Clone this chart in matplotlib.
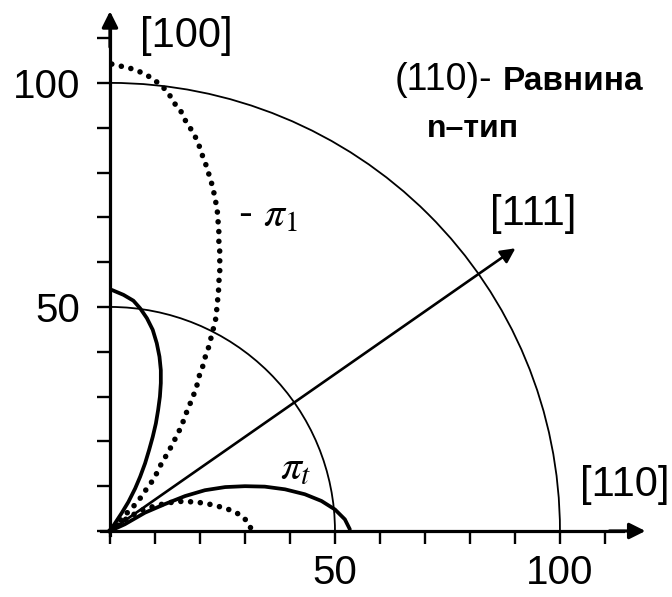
import numpy as np
import matplotlib
matplotlib.use("Agg")
import matplotlib.pyplot as plt
from matplotlib.patches import Arc
from matplotlib.ticker import FixedLocator, FuncFormatter

plt.rcParams['font.family'] = ['Liberation Sans', 'DejaVu Sans']
plt.rcParams['mathtext.fontset'] = 'stix'

# Piezoresistance coefficients of n-type Si in the (110) plane,
# polar curves given as x/y components (units of 1e-11 1/Pa).
# -pi_l, lobe along [100]
pil_a_x = [0.4, 3.0, 5.1, 7.3, 9.6, 11.1, 12.9, 14.0, 15.6, 16.7, 17.8, 19.1, 20.0,
           20.7, 21.6, 22.2, 22.9, 23.3, 23.8, 24.0, 24.2, 24.2, 24.4, 24.4, 24.4,
           24.2, 24.1, 23.8, 23.6, 23.1, 22.6, 22.1, 21.3, 20.6, 19.8, 19.3, 18.5,
           17.6, 16.7, 15.9, 14.8, 13.7, 12.6, 11.5, 10.4, 9.3, 8.2, 7.0, 5.9, 4.4,
           2.5, 0.0]
pil_a_y = [104.2, 103.6, 103.1, 102.2, 100.9, 99.6, 98.0, 95.8, 94.0, 91.7, 90.0, 87.7,
           85.5, 83.3, 81.0, 78.8, 76.6, 74.3, 72.1, 69.4, 66.7, 64.5, 62.3, 60.0,
           57.8, 55.6, 53.1, 50.4, 47.8, 45.6, 43.8, 41.5, 39.3, 36.7, 34.5, 32.4,
           30.1, 27.9, 25.7, 23.4, 21.2, 19.0, 17.0, 15.2, 12.9, 11.0, 9.5, 7.7, 6.2,
           4.7, 2.6, 0.0]
# -pi_l, lobe along [110]
pil_b_x = [0.0, 4.0, 7.0, 10.0, 13.0, 15.6, 18.5, 21.1, 23.3, 25.6, 27.4, 29.3, 30.7, 31.3]
pil_b_y = [0.0, 3.0, 4.6, 5.6, 6.3, 6.6, 6.5, 6.2, 5.7, 5.1, 4.4, 3.4, 1.9, 0.6]
# pi_t, lobe along [100]
pit_a_x = [0.4, 3.0, 5.2, 6.7, 8.2, 9.5, 10.4, 11.0, 11.3, 11.3, 11.1, 10.7, 10.2,
           9.5, 8.7, 7.8, 6.7, 5.6, 4.1, 2.6, 1.1, 0.0]
pit_a_y = [53.8, 52.7, 51.4, 49.7, 47.5, 44.9, 41.9, 38.9, 35.9, 33.0, 30.0, 27.0,
           24.0, 21.0, 18.1, 15.1, 12.1, 9.5, 6.5, 4.0, 1.7, 0.0]
# pi_t, lobe along [110]
pit_b_x = [0.0, 3.3, 7.8, 12.2, 16.7, 21.1, 25.6, 30.0, 34.4, 38.9, 43.3, 47.0, 50.0,
           52.2, 53.3]
pit_b_y = [0.0, 1.5, 4.1, 6.0, 7.8, 9.1, 9.8, 10.0, 9.9, 9.3, 8.2, 6.7, 4.8, 2.6, 0.4]

ring_radii = [50, 100]
dir_111_angle = 35.0     # degrees from [110]
dir_111_length = 110
tick_values = list(range(0, 120, 10))
labelled_ticks = [50, 100]

fig = plt.figure(figsize=(6.72, 5.97), dpi=100)
ax = fig.add_axes([0, 0, 1, 1])
ax.set_xlim(-24.44, 124.9)
ax.set_ylim(-14.73, 118.5)
ax.patch.set_visible(False)

# reference circles
for r in ring_radii:
    ax.add_patch(Arc((0, 0), 2 * r, 2 * r, theta1=0, theta2=90,
                     lw=1.3, color='black'))

# curves
dot_kw = dict(color='black', lw=4.0, linestyle=(0, (0.01, 1.75)),
              dash_capstyle='round', solid_capstyle='round')
ax.plot(pil_a_x, pil_a_y, **dot_kw)
ax.plot(pil_b_x, pil_b_y, **dot_kw)
sol_kw = dict(color='black', lw=2.7, solid_capstyle='round', solid_joinstyle='round')
ax.plot(pit_a_x, pit_a_y, **sol_kw)
ax.plot(pit_b_x, pit_b_y, **sol_kw)

# [111] direction arrow
th = np.deg2rad(dir_111_angle)
ax.annotate('', xy=(dir_111_length * np.cos(th), dir_111_length * np.sin(th)),
            xytext=(0, 0),
            arrowprops=dict(arrowstyle='-|>', lw=1.9, color='black',
                            mutation_scale=22, shrinkA=0, shrinkB=0))

# axes through the origin with arrow heads
for side in ('top', 'right'):
    ax.spines[side].set_visible(False)
ax.spines['left'].set_position(('data', 0))
ax.spines['bottom'].set_position(('data', 0))
ax.spines['left'].set_bounds(-1, 112)
ax.spines['bottom'].set_bounds(-2, 114)
for side in ('left', 'bottom'):
    ax.spines[side].set_linewidth(2.3)
ax.annotate('', xy=(119, 0), xytext=(111, 0),
            arrowprops=dict(arrowstyle='-|>', lw=2.3, color='black',
                            mutation_scale=24, shrinkA=0, shrinkB=0))
ax.annotate('', xy=(0, 116), xytext=(0, 108),
            arrowprops=dict(arrowstyle='-|>', lw=2.3, color='black',
                            mutation_scale=24, shrinkA=0, shrinkB=0))

fmt = FuncFormatter(lambda v, p: f'{int(round(v))}' if int(round(v)) in labelled_ticks else '')
ax.xaxis.set_major_locator(FixedLocator(tick_values))
ax.yaxis.set_major_locator(FixedLocator(tick_values))
ax.xaxis.set_major_formatter(fmt)
ax.yaxis.set_major_formatter(fmt)
ax.tick_params(direction='out', length=9.5, width=1.7, labelsize=29, pad=12)
ax.tick_params(axis='x', pad=7)

# direction and curve labels
ax.text(6.7, 110.5, '[100]', fontsize=30, ha='left', va='center')
ax.text(84.4, 70.8, '[111]', fontsize=30, ha='left', va='center')
ax.text(104.4, 10.3, '[110]', fontsize=30, ha='left', va='center')
ax.text(63.3, 98.4, '(110)-', fontsize=27, ha='left', va='baseline')
ax.text(87.3, 98.4, 'Равнина', fontsize=24, fontweight='bold', ha='left', va='baseline')
ax.text(70.4, 88.0, 'n–тип', fontsize=23, fontweight='bold', ha='left', va='baseline')
ax.text(28.4, 70.5, r'- $\pi_1$', fontsize=30, ha='left', va='center')
ax.text(37.8, 14.0, r'$\pi_t$', fontsize=30, ha='left', va='center')

fig.savefig('out.png', dpi=100)
